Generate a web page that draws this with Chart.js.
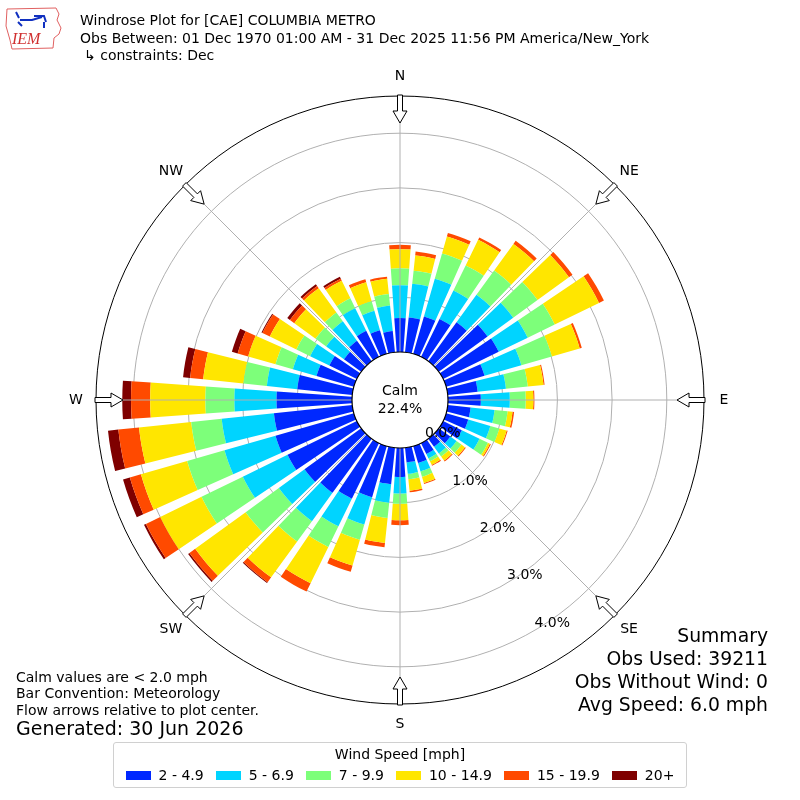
<!DOCTYPE html>
<html>
<head>
<meta charset="utf-8">
<script src="https://cdn.jsdelivr.net/npm/chart.js@4.4.0/dist/chart.umd.min.js"></script>
<style>
  body{margin:0;background:#fff;font-family:"DejaVu Sans",sans-serif;color:#000;}
  #wrap{position:relative;width:800px;height:800px;overflow:hidden;}
  #rose{position:absolute;left:0;top:0;}
  .t{position:absolute;white-space:nowrap;line-height:1;}
  .title{left:80px;font-size:14px;}
  .note{left:16px;font-size:14px;}
  .sum{right:32px;font-size:18.8px;text-align:right;}
  #legend{position:absolute;left:113px;top:742px;width:572px;height:44px;border:1px solid #d0d0d0;border-radius:3px;}
  #legend .lt{position:absolute;left:0;right:0;top:3px;text-align:center;font-size:14px;}
  #legend .items{position:absolute;left:0;right:0;top:24px;display:flex;justify-content:center;font-size:14px;line-height:16px;}
  #legend .it{display:flex;align-items:center;margin:0 6px;}
  #legend .sw{width:25px;height:9px;margin-right:8px;}
</style>
</head>
<body>
<div id="wrap">
  <canvas id="rose" width="800" height="800"></canvas>
  <svg style="position:absolute;left:4px;top:4px" width="60" height="48" viewBox="0 0 60 48">
    <path d="M3 5 L52 4 L55 10 L53 16 L57 24 L55 30 L50 34 L49 44 L8 45 L6 36 L2 22 Z" fill="none" stroke="#e06060" stroke-width="1"/>
    <path d="M12 8 L15 14 M16 16 L28 16 L38 13 M30 12 L40 12 L42 18 M40 18 L40 24 M14 18 L18 22" stroke="#1030c0" stroke-width="2" fill="none"/>
    <text x="8" y="40" font-family="Liberation Serif, serif" font-style="italic" font-size="16" fill="#d03030">IEM</text>
  </svg>
  <div class="t title" style="top:13px">Windrose Plot for [CAE] COLUMBIA METRO</div>
  <div class="t title" style="top:31px">Obs Between: 01 Dec 1970 01:00 AM - 31 Dec 2025 11:56 PM America/New_York</div>
  <div class="t title" style="top:48px;left:84px">↳ constraints: Dec</div>

  <div class="t note" style="top:670px">Calm values are &lt; 2.0 mph</div>
  <div class="t note" style="top:686px">Bar Convention: Meteorology</div>
  <div class="t note" style="top:703px">Flow arrows relative to plot center.</div>
  <div class="t note" style="top:719px;font-size:19px">Generated: 30 Jun 2026</div>

  <div class="t sum" style="top:627px">Summary</div>
  <div class="t sum" style="top:650px">Obs Used: 39211</div>
  <div class="t sum" style="top:673px">Obs Without Wind: 0</div>
  <div class="t sum" style="top:696px">Avg Speed: 6.0 mph</div>

  <div id="legend"><div class="lt">Wind Speed [mph]</div><div class="items" id="legItems"></div></div>
</div>
<script>
// direction bins (degrees, meteorological, centre of each 10 deg sector)
const directions = [0,10,20,30,40,50,60,70,80,90,100,110,120,130,140,150,160,170,
                    180,190,200,210,220,230,240,250,260,270,280,290,300,310,320,330,340,350];
const speedBins = ['2 - 4.9','5 - 6.9','7 - 9.9','10 - 14.9','15 - 19.9','20+'];
const binColors = ['#0028ff','#00d4ff','#7dff7a','#ffe600','#ff4a00','#7f0000'];

// frequency (%) per direction for each speed bin
const spd2to5  = [0.62,0.64,0.71,0.77,0.88,1.10,1.13,0.73,0.55,0.60,0.42,0.42,0.38,0.26,0.18,0.22,0.32,0.27,
                  0.53,0.67,0.97,1.13,1.22,1.28,1.41,1.49,1.44,1.38,1.01,0.71,0.56,0.39,0.46,0.53,0.45,0.39];
const spd5to7  = [0.60,0.62,0.72,0.58,0.62,0.58,0.59,0.70,0.52,0.53,0.44,0.42,0.36,0.14,0.15,0.09,0.16,0.21,
                  0.30,0.34,0.52,0.56,0.64,0.58,0.91,0.97,0.96,0.77,0.56,0.45,0.39,0.40,0.44,0.46,0.37,0.47];
const spd7to10 = [0.31,0.24,0.48,0.51,0.55,0.55,0.55,0.58,0.40,0.29,0.24,0.17,0.17,0.11,0.07,0.06,0.10,0.10,
                  0.19,0.28,0.29,0.42,0.46,0.75,0.84,0.71,0.56,0.53,0.43,0.33,0.28,0.24,0.20,0.20,0.18,0.21];
const spd10to15= [0.35,0.28,0.32,0.52,0.60,0.71,0.90,0.53,0.29,0.14,0.09,0.14,0.04,0.08,0.09,0.07,0.12,0.21,
                  0.30,0.46,0.49,0.74,0.81,1.14,0.84,0.88,0.96,1.01,0.74,0.52,0.54,0.48,0.55,0.36,0.36,0.28];
const spd15to20= [0.08,0.07,0.07,0.05,0.07,0.08,0.10,0.04,0.02,0.02,0.03,0.02,0.02,0.02,0.02,0.02,0.02,0.03,
                  0.09,0.08,0.12,0.17,0.11,0.13,0.29,0.21,0.38,0.35,0.24,0.20,0.15,0.10,0.05,0.04,0.06,0.04];
const spd20up  = [0,0,0,0,0,0,0,0,0,0,0,0,0,0,0,0,0,0,
                  0,0,0,0,0.02,0.03,0.04,0.13,0.19,0.16,0.13,0.11,0.02,0.06,0.04,0.04,0,0];

const calmPct = 22.4;
const ringTicks = [0,1,2,3,4];
const compass = ['N','NE','E','SE','S','SW','W','NW'];

const R_MIN = -0.8775, R_MAX = 4.68;   // calm hole + outer edge
const OPENING = 0.8;                  // bar width fraction of sector

const series = [spd2to5,spd5to7,spd7to10,spd10to15,spd15to20,spd20up];
// stacked -> cumulative radii
const cumul = [];
series.forEach((s,k)=>{
  cumul.push(s.map((v,i)=> +((k?cumul[k-1][i]:0)+v).toFixed(3)));
});

const barShape = {
  id:'barShape',
  afterDatasetsUpdate(chart){
    const sc = chart.scales.r;
    const metas = chart.getSortedVisibleDatasetMetas().sort((a,b)=>a.index-b.index);
    metas.forEach((meta,k)=>{
      meta.data.forEach((arc,i)=>{
        const mid=(arc.startAngle+arc.endAngle)/2, half=(arc.endAngle-arc.startAngle)/2*OPENING;
        arc.startAngle = mid-half; arc.endAngle = mid+half;
        arc.innerRadius = k ? sc.getDistanceFromCenterForValue(cumul[k-1][i]) : sc.getDistanceFromCenterForValue(0);
      });
    });
  }
};

const overlay = {
  id:'overlay',
  afterDraw(chart){
    const sc = chart.scales.r, ctx = chart.ctx;
    const cx = sc.xCenter, cy = sc.yCenter, R = sc.drawingArea;
    const r0 = sc.getDistanceFromCenterForValue(0);
    ctx.save();
    // spokes
    ctx.strokeStyle='#b0b0b0'; ctx.lineWidth=1;
    for(let a=0;a<360;a+=45){
      const t=a*Math.PI/180, s=Math.sin(t), c=-Math.cos(t);
      ctx.beginPath(); ctx.moveTo(cx+r0*s, cy+r0*c); ctx.lineTo(cx+R*s, cy+R*c); ctx.stroke();
    }
    // calm circle
    ctx.beginPath(); ctx.arc(cx,cy,r0,0,Math.PI*2); ctx.fillStyle='#fff'; ctx.fill();
    ctx.strokeStyle='#000'; ctx.lineWidth=1.2; ctx.stroke();
    ctx.fillStyle='#000'; ctx.font='14px "DejaVu Sans"'; ctx.textAlign='center'; ctx.textBaseline='middle';
    ctx.fillText('Calm', cx, cy-9); ctx.fillText(calmPct.toFixed(1)+'%', cx, cy+9);
    // ring labels along 150 deg
    const la = 150*Math.PI/180;
    ctx.textAlign='left';
    ringTicks.forEach(v=>{
      const d = sc.getDistanceFromCenterForValue(v);
      ctx.fillText(v.toFixed(1)+'%', cx+d*Math.sin(la)+1, cy-d*Math.cos(la)-8);
    });
    // flow arrows + compass labels
    ctx.textAlign='center';
    compass.forEach((lab,i)=>{
      const t=i*45*Math.PI/180, ux=Math.sin(t), uy=-Math.cos(t), vx=-uy, vy=ux;
      const P=(r,w)=>[cx+ux*r+vx*w, cy+uy*r+vy*w];
      const pts=[P(R-27,0),P(R-15,7),P(R-15,2.5),P(R+1,2.5),P(R+1,-2.5),P(R-15,-2.5),P(R-15,-7)];
      ctx.beginPath(); pts.forEach((p,j)=> j?ctx.lineTo(p[0],p[1]):ctx.moveTo(p[0],p[1])); ctx.closePath();
      ctx.fillStyle='#fff'; ctx.fill(); ctx.strokeStyle='#000'; ctx.lineWidth=1; ctx.stroke();
      ctx.fillStyle='#000';
      ctx.fillText(lab, cx+ux*(R+20), cy+uy*(R+20));
    });
    ctx.restore();
  }
};

new Chart(document.getElementById('rose'), {
  type:'polarArea',
  data:{
    labels: directions.map(String),
    datasets: cumul.map((d,k)=>({label:speedBins[k], data:d, backgroundColor:binColors[k], borderWidth:0}))
  },
  options:{
    responsive:false, animation:false, devicePixelRatio:1,
    layout:{padding:96},
    plugins:{legend:{display:false}, tooltip:{enabled:false}},
    scales:{r:{
      min:R_MIN, max:R_MAX, startAngle:-5,
      ticks:{display:false, z:1},
      pointLabels:{display:false},
      angleLines:{display:false},
      grid:{circular:true, lineWidth:1, color:c=> c.index===ringTicks.length ? '#000' : '#b0b0b0'},
      afterBuildTicks:s=>{ s.ticks = ringTicks.concat([R_MAX]).map(v=>({value:v})); }
    }}
  },
  plugins:[barShape, overlay]
});

// legend
const li = document.getElementById('legItems');
speedBins.forEach((b,k)=>{
  const d=document.createElement('div'); d.className='it';
  d.innerHTML=`<span class="sw" style="background:${binColors[k]}"></span>${b}`;
  li.appendChild(d);
});
</script>
</body>
</html>
